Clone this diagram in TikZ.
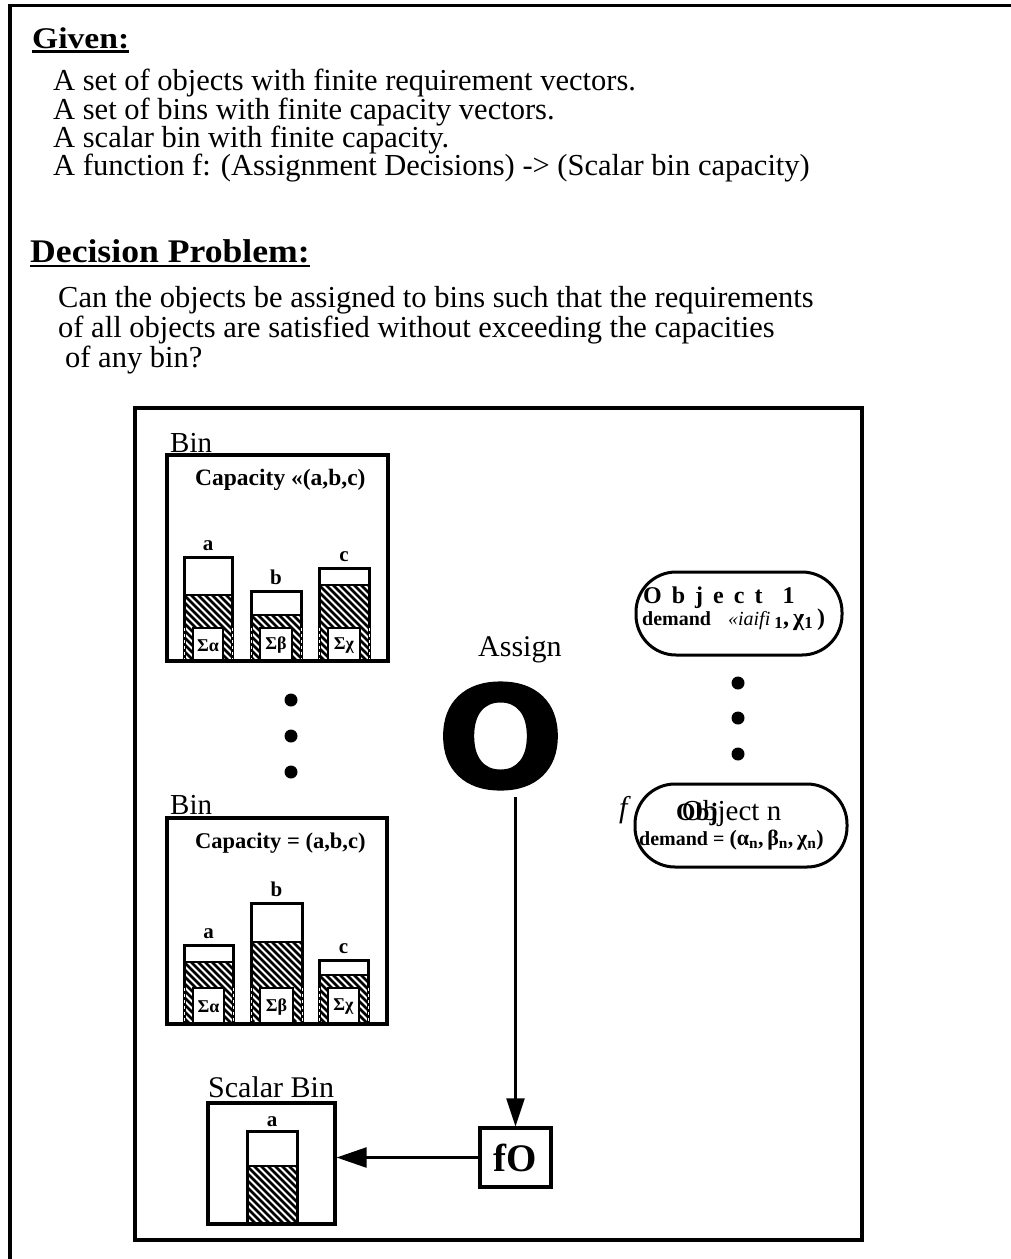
\documentclass[tikz,border=0pt]{standalone}
\usepackage{graphicx}
\usepackage{fontspec}
\setmainfont{Liberation Serif}
\newfontfamily\heavyfont{DejaVu Sans}[FakeBold=1.2]
\usetikzlibrary{arrows.meta}

% font size given in points (one point per pixel of the page)
\newcommand\pxfont[1]{\fontsize{#1}{#1}\selectfont}

% diagonal hatching of a rectangle (x1,y1)-(x2,y2)
\newcommand\hatchrect[4]{%
  \begin{scope}
    \clip (#1,#2) rectangle (#3,#4);
    \foreach \s in {-77,-70,...,63}
      \draw[hatchline] ({#1+\s},#2) -- ({#1+\s+80},{#2+80});
  \end{scope}}

% one capacity bar: x1, x2, top, start of hatch, top of sum box, bottom, label, sum, name
\newcommand\binbar[9]{%
  \hatchrect{#1}{#4}{#2}{#6}%
  \fill[white] ({#1+9},#5) rectangle ({#2-9},#6);
  \draw[line width=1.6pt] ({#1+9},#6) -- ({#1+9},#5) -- ({#2-9},#5) -- ({#2-9},#6);
  \draw[line width=2.4pt] (#1,#4) -- (#2,#4);
  \draw[barline] (#1,#3) rectangle (#2,#6);
  \draw[white, line width=1pt, dash pattern=on 3pt off 3pt] (#1,#5) -- (#1,#6) (#2,#5) -- (#2,#6);
  \node[barlabel] (#9-top) at ({(#1+#2)/2},{#3-7}) {#7};
  \node[sumlabel] (#9-sum) at ({(#1+#2)/2},{(#5+#6)/2+1}) {#8};
}

\begin{document}
\begin{tikzpicture}[x=1pt,y=-1pt,
  txt/.style={inner sep=0pt, anchor=base west},
  body/.style={txt, font={\pxfont{30.5}}},
  frame/.style={line width=3.4pt},
  uline/.style={line width=2.6pt},
  hatchline/.style={line width=2.5pt},
  barline/.style={line width=3pt},
  binframe/.style={line width=3.2pt},
  barlabel/.style={inner sep=0pt, anchor=base, font={\bfseries\pxfont{21}}},
  sumlabel/.style={inner sep=0pt, font={\bfseries\pxfont{18}}},
  objshape/.style={draw, line width=3pt, rounded corners=40pt, inner sep=0pt},
  conn/.style={line width=2.4pt}
]
\useasboundingbox (0,0) rectangle (1011,1259);

% page frame (only its top and left edges are in view)
\draw[frame] (10,1270) -- (10,5.5) -- (1020,5.5);

% ---- problem statement ----
\node[txt] (given) at (32,48) {\scalebox{1.12}[1]{\bfseries\pxfont{30}Given:}};
\draw[uline] ([yshift=-3.5pt]given.base west) -- ([yshift=-3.5pt]given.base east);

\node[body] (g1) at (53,90.5) {A set of objects with finite requirement vectors.};
\node[body] (g2) at (53,119) {A set of bins with finite capacity vectors.};
\node[body] (g3) at (53,147) {A scalar bin with finite capacity.};
\node[body] (g4) at (53,175.5) {A function f: (Assignment Decisions) -> (Scalar bin capacity)};

\node[txt] (decision) at (30,262) {\scalebox{1.08}[1]{\bfseries\pxfont{33}Decision Problem:}};
\draw[uline] ([yshift=-4pt]decision.base west) -- ([yshift=-4pt]decision.base east);

\node[body] (d1) at (58,307) {Can the objects be assigned to bins such that the requirements};
\node[body] (d2) at (58,337) {of all objects are satisfied without exceeding the capacities};
\node[body] (d3) at (65,367) {of any bin?};

% ---- diagram frame ----
\draw[frame] (135,408) rectangle (862,1240);

% first bin
\node[txt, font={\pxfont{29}}] (bin1name) at (170,452) {Bin};
\binbar{184}{232}{557}{595}{628}{661}{a}{Σα}{b1a}
\binbar{251}{301}{591}{615}{628}{661}{b}{Σβ}{b1b}
\binbar{319}{369}{568}{585}{628}{661}{c}{Σχ}{b1c}
\draw[binframe] (167,455) rectangle (388,661);
\node[txt, font={\bfseries\pxfont{23.5}}] (bin1cap) at (195,485) {Capacity «(a,b,c)};

% dots between the bins
\fill (291,700) circle (6.5pt);
\fill (291,736) circle (6.5pt);
\fill (291,772) circle (6.5pt);

% last bin
\node[txt, font={\pxfont{29}}] (bin2name) at (170,814) {Bin};
\binbar{184}{233}{945}{962}{988}{1024}{a}{Σα}{b2a}
\binbar{251}{302}{903}{942}{988}{1024}{b}{Σβ}{b2b}
\binbar{319}{368}{960}{975}{988}{1024}{c}{Σχ}{b2c}
\draw[binframe] (167,818) rectangle (387,1024);
\node[txt, font={\bfseries\pxfont{22.5}}] (bin2cap) at (195,848) {Capacity = (a,b,c)};

% scalar bin
\node[txt, font={\pxfont{30}}] (sbinname) at (208,1097) {Scalar Bin};
\hatchrect{247}{1166}{297}{1224}
\draw[line width=2.4pt] (247,1166) -- (297,1166);
\draw[barline] (247,1131) rectangle (297,1224);
\node[barlabel] (sbar-top) at (272,1126) {a};
\node[draw, binframe, inner sep=0pt, minimum width=127pt, minimum height=121pt] (sbin) at (271.5,1163.5) {};

% assignment
\node[txt, font={\pxfont{30}}] (assign) at (478,656) {Assign};
\node[inner sep=0pt, font={\heavyfont\bfseries\pxfont{142}}] (bigO) at (500.5,736) {\scalebox{1.06}[1]{O}};

% objects
\node[objshape, minimum width=206pt, minimum height=83pt] (obj1) at (739,613.5) {};
\node[txt, font={\bfseries\pxfont{24}}] (obj1name) at (643,603) {{\spaceskip=10pt\relax O b j e c t}\hspace{20pt}1};
\node[txt, font={\pxfont{20}}] (obj1dem) at (642,625) {{\bfseries demand}\hspace{17pt}{\itshape «iaifi}{\bfseries\pxfont{24}\,\textsubscript{1},\,χ\textsubscript{1}\,)}};

\fill (738,683) circle (6.5pt);
\fill (738,718) circle (6.5pt);
\fill (738,754) circle (6.5pt);

\node[objshape, minimum width=212pt, minimum height=83pt] (objn) at (741,825.5) {};
\node[txt, font={\itshape\pxfont{30}}] (objnf) at (619,817) {f};
\node[txt, font={\bfseries\pxfont{25}}] (objnbold) at (676,820) {Obj};
\node[txt, font={\pxfont{29}}] (objnname) at (682,820) {Object n};
\node[txt, font={\bfseries\pxfont{20}}] (objndem) at (639,845) {demand = {\pxfont{22}(α\textsubscript{n},\,β\textsubscript{n},\,χ\textsubscript{n})}};

% evaluation of f
\node[draw, binframe, inner sep=0pt, minimum width=71pt, minimum height=59pt, font={\bfseries\pxfont{39}}] (fO) at (515.5,1157.5) {fO};

\draw[conn, -{Triangle[length=28pt,width=18pt]}] ([yshift=-7pt]bigO.south -| fO.north) -- (fO.north);
\draw[conn, -{Triangle[length=30pt,width=20pt]}] (fO.west) -- (fO.west -| sbin.east);
\end{tikzpicture}
\end{document}
